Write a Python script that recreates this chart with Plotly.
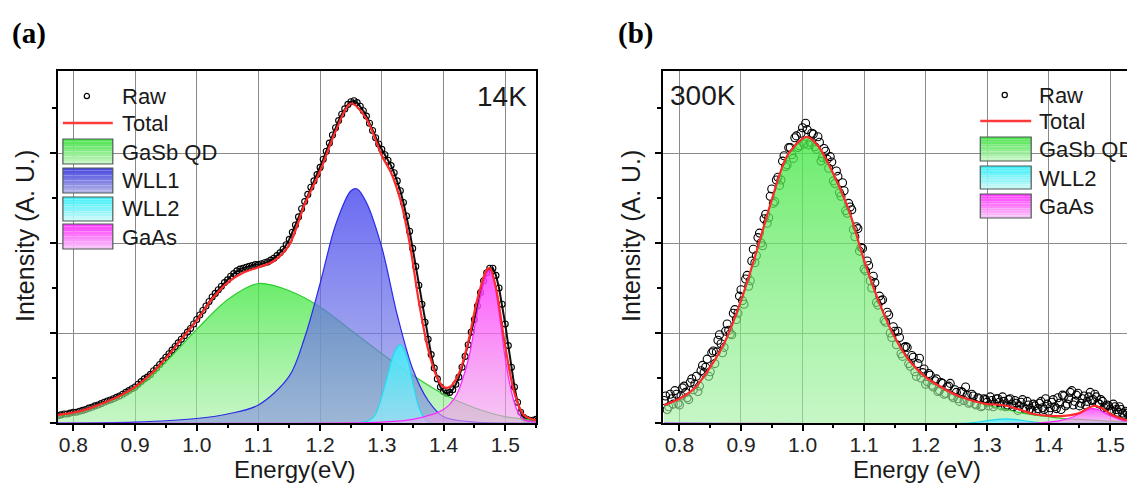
import numpy as np
import plotly.graph_objects as go

W, H = 1135, 485
OFF = 8  # page body margin of the html page
FONT = "Liberation Sans"

# ---------------- Panel (a) 14K ----------------
raw_a_start, raw_a_step = 0.775, 0.005
raw_a = [0.08,0.09,0.10,0.10,0.11,0.12,0.12,0.13,0.14,0.15,0.165,0.175,0.19,0.20,0.215,0.23,0.245,0.255,0.27,0.285,
         0.30,0.32,0.34,0.36,0.38,0.40,0.43,0.46,0.49,0.51,0.54,0.58,0.61,0.65,0.69,0.73,0.77,0.81,0.85,0.89,
         0.93,0.97,1.01,1.05,1.10,1.15,1.20,1.25,1.30,1.35,1.40,1.44,1.48,1.52,1.56,1.59,1.63,1.66,1.69,1.71,
         1.72,1.73,1.74,1.75,1.76,1.76,1.77,1.78,1.79,1.81,1.83,1.86,1.89,1.93,1.98,2.04,2.12,2.20,2.29,2.38,
         2.46,2.54,2.62,2.69,2.76,2.84,2.93,3.02,3.11,3.20,3.28,3.36,3.43,3.49,3.54,3.57,3.58,3.56,3.52,3.47,
         3.41,3.33,3.25,3.17,3.10,3.04,2.98,2.92,2.86,2.78,2.69,2.58,2.45,2.30,2.13,1.94,1.74,1.53,1.32,1.12,
         0.93,0.76,0.61,0.49,0.40,0.35,0.33,0.34,0.37,0.43,0.51,0.62,0.74,0.87,1.01,1.15,1.30,1.45,1.58,1.67,
         1.72,1.72,1.64,1.50,1.32,1.10,0.86,0.62,0.40,0.23,0.12,0.06,0.04,0.03,0.03,0.04]

tot_a_E = [0.775,0.80,0.825,0.85,0.875,0.90,0.925,0.95,0.975,1.00,1.025,1.05,1.075,1.10,1.125,1.15,1.175,1.20,
           1.225,1.25,1.275,1.30,1.315,1.33,1.345,1.36,1.375,1.39,1.40,1.41,1.425,1.44,1.455,1.47,1.475,1.485,
           1.50,1.515,1.53,1.55]
tot_a = [0.09,0.115,0.16,0.225,0.30,0.40,0.54,0.72,0.93,1.14,1.38,1.56,1.67,1.73,1.80,1.98,2.43,2.80,
         3.24,3.55,3.38,2.97,2.78,2.48,2.00,1.35,0.82,0.50,0.40,0.40,0.55,0.90,1.38,1.70,1.72,1.50,
         0.85,0.33,0.09,0.03]

qd_a_E = [0.775,0.80,0.85,0.90,0.95,1.00,1.05,1.10,1.15,1.20,1.25,1.30,1.35,1.40,1.45,1.50,1.55]
qd_a = [0.08,0.11,0.22,0.38,0.68,1.04,1.37,1.55,1.47,1.29,1.03,0.77,0.53,0.32,0.17,0.07,0.03]

w1_a_E = [0.775,0.90,1.00,1.05,1.10,1.15,1.175,1.20,1.225,1.25,1.26,1.275,1.30,1.325,1.35,1.375,1.40,1.45,1.55]
w1_a = [0.0,0.01,0.05,0.10,0.20,0.52,0.95,1.55,2.20,2.58,2.60,2.45,1.95,1.20,0.60,0.25,0.07,0.01,0.0]

w2_a_E = [0.775,1.26,1.28,1.29,1.30,1.31,1.32,1.33,1.34,1.35,1.36,1.37,1.38,1.55]
w2_a = [0.0,0.0,0.03,0.10,0.30,0.55,0.78,0.87,0.75,0.45,0.18,0.04,0.0,0.0]

ga_a_E = [0.775,1.30,1.35,1.40,1.42,1.44,1.45,1.46,1.47,1.475,1.48,1.49,1.50,1.51,1.52,1.53,1.55]
ga_a = [0.0,0.01,0.04,0.15,0.30,0.70,1.05,1.42,1.67,1.70,1.65,1.22,0.72,0.35,0.13,0.04,0.01]

# ---------------- Panel (b) 300K ----------------
raw_b_start, raw_b_step = 0.775, 0.005
raw_b = [0.25,0.15,0.32,0.21,0.32,0.20,0.39,0.34,0.26,0.49,0.43,0.35,0.58,0.56,0.71,0.57,0.80,0.79,0.98,0.78,
         1.02,1.03,0.98,1.26,1.22,1.48,1.32,1.64,1.58,1.93,1.86,2.11,1.97,2.32,2.28,2.60,2.46,2.73,2.70,2.97,
         2.87,3.06,2.94,3.19,3.08,3.28,3.33,3.09,3.22,3.07,3.18,2.91,3.05,2.93,2.96,2.69,2.80,2.56,2.67,2.36,
         2.44,2.37,2.07,2.16,1.95,1.71,1.80,1.58,1.63,1.34,1.41,1.37,1.12,1.20,0.95,1.02,1.02,0.77,0.84,0.84,
         0.63,0.73,0.52,0.72,0.56,0.43,0.55,0.42,0.47,0.35,0.45,0.32,0.40,0.44,0.28,0.34,0.24,0.34,0.40,0.22,
         0.32,0.21,0.28,0.18,0.27,0.23,0.29,0.18,0.27,0.23,0.29,0.18,0.26,0.21,0.25,0.14,0.23,0.17,0.24,0.16,
         0.21,0.13,0.22,0.17,0.27,0.13,0.23,0.18,0.28,0.15,0.30,0.21,0.34,0.20,0.31,0.19,0.27,0.20,0.29,0.25,
         0.32,0.22,0.26,0.17,0.20,0.15,0.21,0.15,0.18,0.11,0.13,0.08,0.10]
# second interleaved set of raw points (half a step later)
raw_b2_start, raw_b2_step = 0.7775, 0.005
raw_b2 = [0.30,0.18,0.27,0.36,0.22,0.30,0.41,0.28,0.45,0.37,0.52,0.41,0.64,0.62,0.52,0.78,0.66,0.92,0.88,0.84,
          1.10,0.99,1.22,1.15,1.41,1.36,1.60,1.52,1.80,1.78,2.06,2.00,2.27,2.22,2.52,2.44,2.70,2.64,2.91,2.85,
          3.06,2.98,3.17,3.06,3.22,3.10,3.26,3.12,3.21,3.04,3.12,2.95,3.02,2.83,2.90,2.66,2.74,2.52,2.58,2.33,
          2.40,2.15,2.18,1.91,1.94,1.69,1.75,1.50,1.56,1.31,1.36,1.14,1.23,1.00,1.07,0.87,0.95,0.74,0.85,0.66,
          0.75,0.57,0.66,0.50,0.60,0.46,0.53,0.40,0.49,0.36,0.44,0.33,0.41,0.30,0.37,0.27,0.35,0.25,0.31,0.23,
          0.30,0.20,0.27,0.19,0.26,0.19,0.25,0.21,0.27,0.19,0.24,0.20,0.27,0.18,0.22,0.19,0.26,0.15,0.20,0.14,
          0.19,0.16,0.24,0.15,0.21,0.17,0.26,0.16,0.22,0.31,0.19,0.27,0.36,0.24,0.33,0.22,0.30,0.24,0.34,0.26,
          0.29,0.21,0.24,0.18,0.19,0.13,0.18,0.12,0.15,0.09,0.11,0.07]

qd_b_E = [0.775,0.80,0.825,0.85,0.875,0.90,0.925,0.95,0.975,1.00,1.0075,1.025,1.05,1.075,1.10,1.125,1.15,1.175,
          1.20,1.225,1.25,1.275,1.30,1.325,1.35,1.375,1.40,1.425,1.45,1.475,1.50,1.55]
qd_b = [0.20,0.27,0.39,0.62,0.92,1.36,1.90,2.48,2.97,3.16,3.18,3.08,2.77,2.37,1.81,1.33,0.95,0.68,
        0.51,0.40,0.31,0.25,0.20,0.16,0.12,0.09,0.07,0.05,0.04,0.03,0.02,0.01]

w2_b_E = [0.775,1.27,1.29,1.31,1.33,1.35,1.37,1.39,1.41,1.55]
w2_b = [0.0,0.0,0.015,0.035,0.045,0.035,0.015,0.003,0.0,0.0]

ga_b_E = [0.775,1.38,1.40,1.42,1.44,1.46,1.47,1.48,1.50,1.52,1.55]
ga_b = [0.0,0.0,0.01,0.03,0.07,0.14,0.16,0.15,0.08,0.03,0.01]

tot_b_E = [0.775,0.80,0.825,0.85,0.875,0.90,0.925,0.95,0.975,1.00,1.0075,1.025,1.05,1.075,1.10,1.125,1.15,1.175,
           1.20,1.225,1.25,1.275,1.30,1.325,1.35,1.375,1.40,1.425,1.45,1.465,1.475,1.49,1.50,1.52,1.55]
tot_b = [0.20,0.27,0.39,0.62,0.92,1.36,1.90,2.48,2.97,3.16,3.18,3.08,2.77,2.37,1.81,1.33,0.95,0.68,
         0.51,0.40,0.31,0.25,0.21,0.20,0.155,0.10,0.08,0.08,0.11,0.17,0.19,0.15,0.10,0.045,0.02]

xticks = [0.8, 0.9, 1.0, 1.1, 1.2, 1.3, 1.4, 1.5]

raw_a_E = np.round(raw_a_start + raw_a_step * np.arange(len(raw_a)), 4)
raw_b_E = np.concatenate([np.round(raw_b_start + raw_b_step * np.arange(len(raw_b)), 4),
                          np.round(raw_b2_start + raw_b2_step * np.arange(len(raw_b2)), 4)])
raw_b_all = list(raw_b) + list(raw_b2)

# style
STY = {
    "qd": dict(line="#2ecc2e", top="rgba(70,232,70,0.80)", bot="rgba(160,240,160,0.60)"),
    "w1": dict(line="#2a2ae6", top="rgba(80,80,240,0.85)", bot="rgba(130,140,225,0.60)"),
    "w2": dict(line="#22d8f0", top="rgba(60,235,250,0.90)", bot="rgba(150,235,250,0.70)"),
    "ga": dict(line="#ff22ff", top="rgba(255,60,255,0.85)", bot="rgba(240,160,235,0.60)"),
}

fig = go.Figure()


def add_panel(xa, ya, rawE, raw, msize, rawline, comps, totE, tot):
    fig.add_trace(go.Scatter(x=rawE, y=raw, mode="lines+markers" if rawline else "markers",
                             xaxis=xa, yaxis=ya, showlegend=False,
                             line=dict(color="#111", width=2.0),
                             marker=dict(symbol="circle-open", size=msize, color="black",
                                         line=dict(width=1.1, color="black"))))
    for key, E, v in comps:
        s = STY[key]
        fig.add_trace(go.Scatter(x=E, y=v, mode="lines", xaxis=xa, yaxis=ya, showlegend=False,
                                 line=dict(color=s["line"], width=1.2, shape="spline", smoothing=0.9),
                                 fill="tozeroy",
                                 fillgradient=dict(type="vertical",
                                                   colorscale=[[0, s["bot"]], [1, s["top"]]])))
    fig.add_trace(go.Scatter(x=totE, y=tot, mode="lines", xaxis=xa, yaxis=ya, showlegend=False,
                             line=dict(color="#ff2a2a", width=2.2, shape="spline", smoothing=0.9)))


add_panel("x", "y", raw_a_E, raw_a, 6, True,
          [("qd", qd_a_E, qd_a), ("w1", w1_a_E, w1_a), ("w2", w2_a_E, w2_a), ("ga", ga_a_E, ga_a)],
          tot_a_E, tot_a)
add_panel("x2", "y2", raw_b_E, raw_b_all, 8, False,
          [("qd", qd_b_E, qd_b), ("w2", w2_b_E, w2_b), ("ga", ga_b_E, ga_b)],
          tot_b_E, tot_b)


def px(x):
    return (x - OFF) / W


def py(y):
    return 1 - (y - OFF) / H


def xax(domain, rng, mirror=True):
    return dict(domain=domain, range=rng, tickvals=xticks, ticktext=[f"{t:.1f}" for t in xticks],
                ticks="outside", ticklen=6, tickwidth=1.5, tickcolor="black", ticklabelstandoff=-4,
                showline=True, linecolor="black", linewidth=1.5, mirror=mirror,
                showgrid=True, gridcolor="#8a8a8a", gridwidth=1.4, zeroline=False,
                minor=dict(dtick=0.05, tick0=0.75, ticks="outside", ticklen=3, tickcolor="black",
                           showgrid=False),
                tickfont=dict(family=FONT, size=21, color="#222"))


def yax(domain, anchor, mirror=True):
    return dict(domain=domain, range=[0, (423 - 71) / 90], anchor=anchor, dtick=1, tick0=0,
                showticklabels=False, ticks="outside", ticklen=6, tickwidth=1.5, tickcolor="black",
                showline=True, linecolor="black", linewidth=1.5, mirror=mirror,
                showgrid=True, gridcolor="#8a8a8a", gridwidth=1.4, zeroline=False,
                minor=dict(dtick=0.5, ticks="outside", ticklen=4, tickcolor="black", showgrid=False))


ydom = [py(423), py(71)]
fig.update_layout(
    width=W, height=H, margin=dict(l=0, r=0, t=0, b=0),
    paper_bgcolor="white", plot_bgcolor="white", showlegend=False,
    xaxis=xax([px(58), px(537)], [0.775, 1.55]),
    yaxis=yax(ydom, "x"),
    xaxis2=dict(xax([px(664), 1.0], [0.773, 1.55]), anchor="y2"),
    yaxis2=dict(yax(ydom, "x2")),
)

ann = []
shapes = []


def text(x, y, s, size, xanchor="left", family=FONT, bold=False, angle=0, color="#1a1a1a"):
    ann.append(dict(x=px(x), y=py(y), xref="paper", yref="paper", text=f"<b>{s}</b>" if bold else s,
                    showarrow=False, xanchor=xanchor, yanchor="middle", textangle=angle,
                    font=dict(family=family, size=size, color=color)))


text(29, 33, "(a)", 29, "center", family="Liberation Serif", bold=True, color="black")
text(637, 33, "(b)", 29, "center", family="Liberation Serif", bold=True, color="black")
text(503, 96, "14K", 28, "center")
text(704, 95, "300K", 28, "center")
text(295, 469, "Energy(eV)", 24, "center")
text(919, 469, "Energy (eV)", 24, "center")
text(25, 236, "Intensity (A. U.)", 25, "center", angle=-90)
text(632, 236, "Intensity (A. U.)", 25, "center", angle=-90)

# axis line stubs extending left of the frames
for x0, x1 in [(50, 58), (657, 664)]:
    shapes.append(dict(type="line", xref="paper", yref="paper", x0=px(x0), x1=px(x1),
                       y0=py(423), y1=py(423), line=dict(color="black", width=1.5)))

BOX = {
    "qd": ((80, 228, 80), (195, 245, 195)),
    "w1": ((74, 74, 224), (176, 176, 232)),
    "w2": ((64, 240, 248), (200, 248, 248)),
    "ga": ((255, 64, 255), (248, 192, 248)),
}


def legend(x0, x1, tx, rows):
    for kind, label, yc, yy in rows:
        if kind == "raw":
            xc = (x0 + x1) / 2 - 1
            shapes.append(dict(type="circle", xref="paper", yref="paper", x0=px(xc - 2.6), x1=px(xc + 2.6),
                               y0=py(yc + 2.6), y1=py(yc - 2.6), line=dict(color="black", width=1.2)))
        elif kind == "tot":
            shapes.append(dict(type="line", xref="paper", yref="paper", x0=px(x0), x1=px(x1),
                               y0=py(yc), y1=py(yc), line=dict(color="#ff3a3a", width=2.6)))
        else:
            top, bot = BOX[kind]
            y0, y1 = yy
            n = 10
            for i in range(n):
                f = i / (n - 1)
                c = tuple(int(round(top[k] + (bot[k] - top[k]) * f)) for k in range(3))
                shapes.append(dict(type="rect", xref="paper", yref="paper", x0=px(x0), x1=px(x1),
                                   y0=py(y0 + (y1 - y0) * (i + 1) / n), y1=py(y0 + (y1 - y0) * i / n),
                                   line=dict(width=0), fillcolor=f"rgb{c}"))
            shapes.append(dict(type="rect", xref="paper", yref="paper", x0=px(x0), x1=px(x1),
                               y0=py(y1), y1=py(y0), line=dict(color="#4d5a55", width=1.2)))
        text(tx, yc, label, 22)


legend(63, 113, 120, [("raw", "Raw", 96, None), ("tot", "Total", 123, None),
                      ("qd", "GaSb QD", 152, (139, 164)), ("w1", "WLL1", 180, (168, 193)),
                      ("w2", "WLL2", 208, (197, 221)), ("ga", "GaAs", 237, (224, 249))])
legend(982, 1033, 1039, [("raw", "Raw", 95, None), ("tot", "Total", 121, None),
                         ("qd", "GaSb QD", 149, (137, 161)), ("w2", "WLL2", 178, (166, 189)),
                         ("ga", "GaAs", 206, (194, 218))])

fig.update_layout(annotations=ann, shapes=shapes)
fig.write_html("out.html")
